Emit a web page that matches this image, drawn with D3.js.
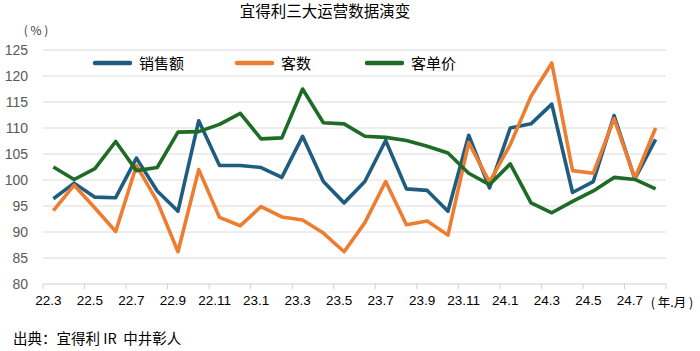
<!DOCTYPE html>
<html>
<head>
<meta charset="utf-8">
<script src="https://cdn.jsdelivr.net/npm/d3@7"></script>
<style>
  body { margin: 0; background: #fff; }
  svg { display: block; font-family: "Noto Sans CJK SC", "Noto Sans", sans-serif; }
</style>
</head>
<body>
<script>
// monthly values, index = year-on-year %
const months = ['22.3', '22.4', '22.5', '22.6', '22.7', '22.8', '22.9', '22.10', '22.11', '22.12',
  '23.1', '23.2', '23.3', '23.4', '23.5', '23.6', '23.7', '23.8', '23.9', '23.10', '23.11', '23.12',
  '24.1', '24.2', '24.3', '24.4', '24.5', '24.6', '24.7', '24.8']
const sales = [96.4, 99.4, 96.7, 96.6, 104.2, 97.9, 94.0, 111.4, 102.8, 102.8,
  102.4, 100.5, 108.4, 99.7, 95.6, 99.7, 107.6, 98.3, 98.0, 94.0, 108.6, 98.5,
  110.0, 110.8, 114.6, 97.6, 99.7, 112.4, 100.2, 107.8]
const customers = [94.1, 99.0, 94.6, 90.1, 102.8, 95.9, 86.2, 102.0, 92.8, 91.2,
  94.9, 92.9, 92.3, 89.8, 86.2, 91.8, 99.7, 91.4, 92.1, 89.4, 107.2, 99.6,
  106.8, 116.1, 122.5, 101.8, 101.3, 111.8, 100.3, 110.0]
const unitPrice = [102.5, 100.1, 102.2, 107.4, 101.8, 102.4, 109.2, 109.3, 110.7, 112.8,
  107.9, 108.1, 117.5, 111.0, 110.8, 108.4, 108.2, 107.6, 106.5, 105.2, 101.3, 99.1,
  103.1, 95.6, 93.7, 95.9, 97.9, 100.5, 100.1, 98.3]
const yTicks = [80, 85, 90, 95, 100, 105, 110, 115, 120, 125]
const seriesNames = ['销售额', '客数', '客单价']

const width = 700
const height = 351
const colors = ['#1f5d80', '#ed7d31', '#1e6b25']

const svg = d3.select('body').append('svg')
  .attr('width', width)
  .attr('height', height)

const x = d3.scaleBand().domain(months).range([43, 666])
const y = d3.scaleLinear().domain([80, 125]).range([284, 50])
const cx = (d) => x(d) + x.bandwidth() / 2

// title
svg.append('text')
  .attr('x', 325)
  .attr('y', 17)
  .attr('text-anchor', 'middle')
  .style('font-size', '15.5px')
  .text('宜得利三大运营数据演变')

svg.append('text')
  .attr('x', 36)
  .attr('y', 35)
  .attr('text-anchor', 'middle')
  .style('font-size', '12px')
  .attr('fill', '#404040')
  .text('( % )')

// gridlines
svg.append('g')
  .selectAll('line')
  .data(yTicks)
  .enter().append('line')
  .attr('x1', 43)
  .attr('x2', 666)
  .attr('y1', (d) => y(d))
  .attr('y2', (d) => y(d))
  .attr('stroke', (d) => d === 80 ? '#cfcfcf' : '#dcdcdc')
  .attr('stroke-width', 1)

// y axis labels
const yAxis = d3.axisLeft(y).tickValues(yTicks).tickSize(0).tickPadding(0)
svg.append('g')
  .attr('transform', 'translate(28,0)')
  .call(yAxis)
  .call((g) => g.select('.domain').remove())
  .call((g) => g.selectAll('text')
    .attr('fill', '#595959')
    .style('font-family', '"Liberation Sans", Arial, sans-serif')
    .style('font-size', '14px'))

// x axis: ticks every two months
const tickMonths = months.filter((d, i) => i % 2 === 0)
svg.append('g')
  .selectAll('line')
  .data(tickMonths.map((d) => x(d)).concat([x.range()[1]]))
  .enter().append('line')
  .attr('x1', (d) => d)
  .attr('x2', (d) => d)
  .attr('y1', y(80))
  .attr('y2', y(80) + 5)
  .attr('stroke', '#cfcfcf')

const xAxis = d3.axisBottom(x).tickValues(tickMonths).tickSize(0).tickPadding(0)
svg.append('g')
  .attr('transform', `translate(-5,${y(80) + 11})`)
  .call(xAxis)
  .call((g) => g.select('.domain').remove())
  .call((g) => g.selectAll('text')
    .attr('fill', '#000')
    .style('font-family', '"Liberation Sans", Arial, sans-serif')
    .style('font-size', '13.5px'))

svg.append('text')
  .attr('x', 672)
  .attr('y', 307)
  .attr('text-anchor', 'middle')
  .style('font-size', '12.5px')
  .text('( 年.月 )')

// lines
const line = d3.line()
  .x((d, i) => cx(months[i]))
  .y((d) => y(d))

const allSeries = [sales, customers, unitPrice]
svg.append('g')
  .selectAll('path')
  .data(allSeries)
  .enter().append('path')
  .attr('d', line)
  .attr('fill', 'none')
  .attr('stroke', (d, i) => colors[i])
  .attr('stroke-width', 3.6)
  .attr('stroke-linejoin', 'round')

// legend
const legendX = [95, 237, 367]
const legend = svg.append('g')
  .selectAll('g')
  .data(seriesNames)
  .enter().append('g')
  .attr('transform', (d, i) => `translate(${legendX[i]},63)`)

legend.append('line')
  .attr('x1', 0)
  .attr('x2', 35)
  .attr('stroke', (d, i) => colors[i])
  .attr('stroke-width', 4.5)
  .attr('stroke-linecap', 'round')

legend.append('text')
  .attr('x', 44)
  .attr('y', 5.5)
  .style('font-size', '15px')
  .text((d) => d)

// source
svg.append('text')
  .attr('x', 13)
  .attr('y', 344)
  .style('font-size', '14.5px')
  .style('white-space', 'pre')
  .text('出典：宜得利 IR  中井彰人')
</script>
</body>
</html>
